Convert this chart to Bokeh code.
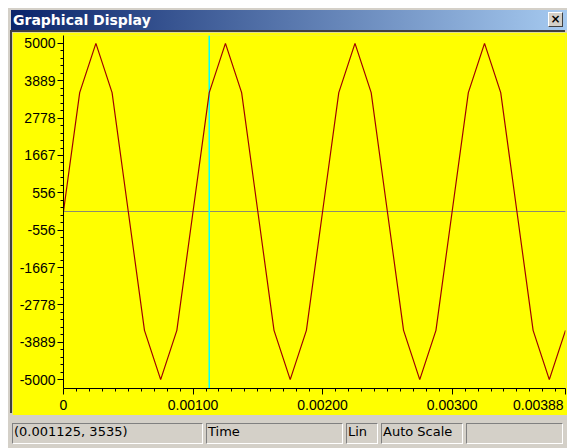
import numpy as np
from bokeh.plotting import figure
from bokeh.models import Div, Span, FixedTicker, Range1d, ColumnDataSource
from bokeh.layouts import column
from bokeh.embed import file_html
from bokeh.resources import INLINE

# ---- data ----
time_s = [0.000000, 0.000125, 0.000250, 0.000375, 0.000500, 0.000625, 0.000750, 0.000875,
          0.001000, 0.001125, 0.001250, 0.001375, 0.001500, 0.001625, 0.001750, 0.001875,
          0.002000, 0.002125, 0.002250, 0.002375, 0.002500, 0.002625, 0.002750, 0.002875,
          0.003000, 0.003125, 0.003250, 0.003375, 0.003500, 0.003625, 0.003750, 0.003875]
amplitude = [0, 3535, 5000, 3535, 0, -3535, -5000, -3535,
             0, 3535, 5000, 3535, 0, -3535, -5000, -3535,
             0, 3535, 5000, 3535, 0, -3535, -5000, -3535,
             0, 3535, 5000, 3535, 0, -3535, -5000, -3535]

cursor_time = 0.001125
cursor_value = 3535

y_tick_values = [-5000, -3888.9, -2777.8, -1666.7, -555.6, 555.6, 1666.7, 2777.8, 3888.9, 5000]
y_tick_labels = ["-5000", "-3889", "-2778", "-1667", "-556", "556", "1667", "2778", "3889", "5000"]
x_tick_values = [0.0, 0.001, 0.002, 0.003, 0.003875]
x_tick_labels = ["0", "0.00100", "0.00200", "0.00300", "0.00388"]

window_title = "Graphical Display"
status_fields = [f"({cursor_time}, {cursor_value})", "Time", "Lin", "Auto Scale", ""]

# ---- styling ----
YELLOW = "#FFFF00"
GRAY = "#D4D0C8"
AX_FONT = "Liberation Sans"
NBSP = "\u00a0"

y_minor = []
for a, b in zip(y_tick_values[:-1], y_tick_values[1:]):
    y_minor += list(np.linspace(a, b, 6)[1:-1])
x_minor = [round(k * 0.0001, 6) for k in range(1, 39) if k % 10 != 0]

src = ColumnDataSource(dict(t=time_s, v=amplitude))

p = figure(width=555, height=383, output_backend="svg", toolbar_location=None,
           x_range=Range1d(0, time_s[-1]), y_range=Range1d(-5264, 5235),
           min_border_left=51, min_border_right=2, min_border_top=3, min_border_bottom=22,
           margin=(2, 0, 0, 4),
           styles={"box-shadow": "-2px -2px 0 0 #404040"})
p.background_fill_color = YELLOW
p.border_fill_color = YELLOW
p.outline_line_color = None
p.xgrid.visible = False
p.ygrid.visible = False

p.add_layout(Span(location=0, dimension="width", line_color="#8C8C6E", line_width=1, level="underlay"))
p.add_layout(Span(location=cursor_time, dimension="height", line_color="#00FFFF", line_width=1.5, level="underlay"))

p.line("t", "v", source=src, line_color="#A00000", line_width=1.2)

for ax in (p.xaxis[0], p.yaxis[0]):
    ax.axis_line_color = "#000000"
    ax.axis_line_width = 1
    ax.major_tick_line_color = "#000000"
    ax.minor_tick_line_color = "#000000"
    ax.major_tick_in = 0
    ax.major_tick_out = 6
    ax.minor_tick_in = 0
    ax.minor_tick_out = 3
    ax.major_label_text_font = AX_FONT
    ax.major_label_text_font_size = "14px"
    ax.major_label_text_color = "#000000"

p.yaxis[0].ticker = FixedTicker(ticks=y_tick_values, minor_ticks=y_minor)
p.yaxis[0].major_label_overrides = {v: l for v, l in zip(y_tick_values, y_tick_labels)}
p.yaxis[0].major_label_standoff = 2

p.xaxis[0].ticker = FixedTicker(ticks=x_tick_values, minor_ticks=x_minor)
xo = {v: l for v, l in zip(x_tick_values, x_tick_labels)}
# last label is pushed inside the plot edge; one trailing space keeps a small gap
xo[x_tick_values[-1]] = x_tick_labels[-1] + NBSP
p.xaxis[0].major_label_overrides = xo
p.xaxis[0].major_label_standoff = 2

title_html = (
    '<div style="width:556px;height:20px;background:linear-gradient(to right,#0A246A,#A6CAF0);'
    'color:#ffffff;font:bold 14px \'DejaVu Sans\';line-height:20px;box-sizing:border-box;'
    'padding-left:2px;position:relative;">' + window_title +
    '<span style="position:absolute;right:4px;top:2px;width:15px;height:15px;background:#D4D0C8;'
    'border:1px solid;border-color:#ffffff #404040 #404040 #ffffff;box-sizing:border-box;color:#000;'
    'font:bold 12px \'DejaVu Sans\';line-height:12px;text-align:center;">&#215;</span></div>'
)
title_div = Div(text=title_html, width=556, height=20, margin=(2, 0, 0, 3))

panel_widths = [191, 137, 32, 82, 97]
spans = ""
for txt, w in zip(status_fields, panel_widths):
    spans += ('<div style="width:%dpx;height:21px;box-sizing:border-box;border:1px solid;'
              'border-color:#808080 #ffffff #ffffff #808080;padding-left:1px;line-height:19px;'
              'font:13px \'DejaVu Sans\';color:#000;white-space:nowrap;overflow:hidden;">%s</div>' % (w, txt))
status_html = '<div style="display:flex;gap:3px;">' + spans + '</div>'
status_div = Div(text=status_html, width=555, height=21, margin=(8, 0, 0, 4))

layout = column(title_div, p, status_div, width=559, height=440, spacing=0,
                margin=(8, 0, 0, 8),
                styles={"background-color": GRAY})

open("out.html", "w").write(file_html(layout, INLINE))
